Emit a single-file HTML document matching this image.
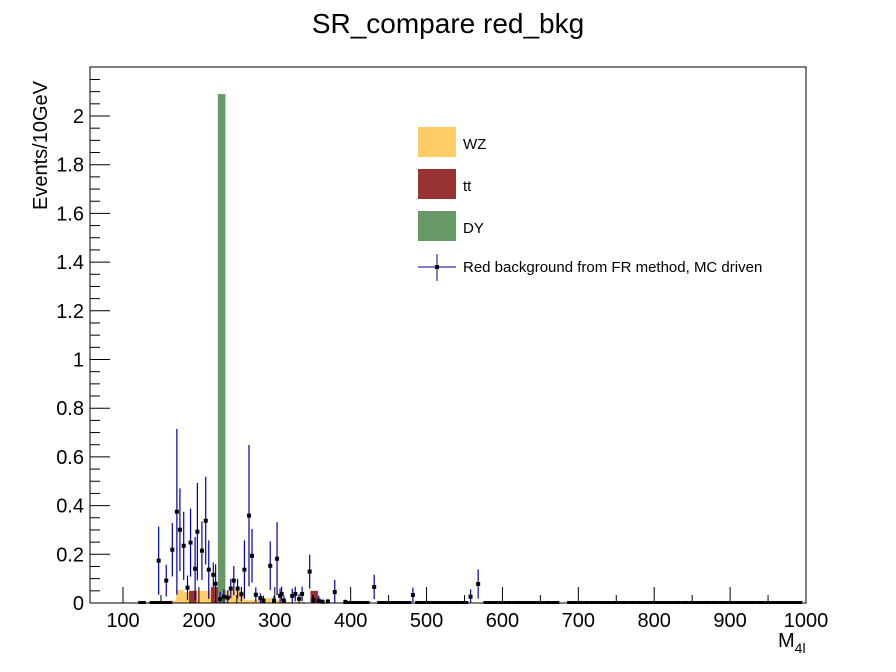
<!DOCTYPE html>
<html><head><meta charset="utf-8"><style>
html,body{margin:0;padding:0;background:#fff;}
svg{display:block;font-family:"Liberation Sans",sans-serif;}
</style></head><body>
<svg id="chart" width="896" height="672" viewBox="0 0 896 672">
<rect x="0" y="0" width="896" height="672" fill="#fff"/>
<text x="448" y="33" font-size="28" text-anchor="middle">SR_compare red_bkg</text>
<g id="hist"></g>
<g id="pts"></g>
<rect x="90" y="67" width="716" height="536" fill="none" stroke="#000" stroke-width="1"/>
<g id="axes"></g>
<text x="47" y="210" font-size="20" transform="rotate(-90 47 210)">Events/10GeV</text>
<text x="778" y="647" font-size="20">M<tspan font-size="14" dy="6">4l</tspan></text>
<g>
<rect x="418" y="127" width="38" height="30" fill="#ffcc66"/>
<text x="463" y="149" font-size="15">WZ</text>
<rect x="418" y="169" width="38" height="30" fill="#993333"/>
<text x="463" y="191" font-size="15">tt</text>
<rect x="418" y="211" width="38" height="30" fill="#669966"/>
<text x="463" y="233" font-size="15">DY</text>
<line x1="418" y1="267" x2="456" y2="267" stroke="#000099"/>
<line x1="437" y1="254" x2="437" y2="281" stroke="#000099"/>
<rect x="435" y="265" width="4" height="4" fill="#000"/>
<text x="463" y="272" font-size="15">Red background from FR method, MC driven</text>
</g>
</svg>
<script>
const wzLo=[160,170,180,190,200,210,220,230,240,250,260,270,280,290,300,310,320,330];
const wzVal=[0.01,0.053,0.045,0.05,0.05,0.05,0.05,0.05,0.05,0.05,0.012,0.012,0.02,0.02,0.012,0.005,0.004,0.004];
const ttLo=[187,216,347];
const ttVal=[0.05,0.066,0.05];
const dyLo=[225];
const dyVal=[2.09];
const ptX=[147,157,165,171,175,180,185,189,195,198,204,209,213,219,222,228,233,238,242,246,251,256,260,266,270,275,281,285,294,299,303,307,309,312,323,327,332,336,346,351,358,363,370,379,393,431,482,558,568];
const ptY=[0.174,0.092,0.219,0.375,0.301,0.235,0.063,0.248,0.141,0.293,0.215,0.338,0.137,0.116,0.079,0.016,0.026,0.022,0.059,0.092,0.059,0.036,0.137,0.359,0.194,0.034,0.02,0.01,0.153,0.01,0.182,0.03,0.037,0.01,0.029,0.037,0.017,0.037,0.129,0.012,0.01,0.005,0.006,0.045,0.004,0.066,0.033,0.026,0.078];
const ptErr=[0.14,0.065,0.11,0.34,0.17,0.14,0.05,0.14,0.13,0.2,0.12,0.18,0.12,0.05,0.08,0.03,0.03,0.03,0.04,0.06,0.04,0.03,0.12,0.29,0.11,0.03,0.02,0.02,0.1,0.02,0.15,0.03,0.03,0.02,0.03,0.03,0.02,0.03,0.07,0.02,0.02,0.01,0.01,0.05,0.01,0.05,0.03,0.03,0.06];
const zeroX=[125,140,145,152,160,400,405,410,420,440,450,460,470,475,490,500,510,520,530,540,550,580,590,600,610,620,630,640,650,660,670,690,700,710,720,730,740,750,760,770,780,790,800,810,820,830,840,850,860,870,880,890,900,910,920,930,940,950,960,970,980,990];
const yTicks=[0,0.2,0.4,0.6,0.8,1,1.2,1.4,1.6,1.8,2];
const yTickLabels=["0","0.2","0.4","0.6","0.8","1","1.2","1.4","1.6","1.8","2"];
const xTicks=[100,200,300,400,500,600,700,800,900,1000];
const xTickLabels=["100","200","300","400","500","600","700","800","900","1000"];

const NS="http://www.w3.org/2000/svg";
function X(v){return 123+(v-100)*0.75889;}
function Y(v){return 603-v*243.5;}
function mk(tag,attrs,parent){const e=document.createElementNS(NS,tag);for(const k in attrs)e.setAttribute(k,attrs[k]);parent.appendChild(e);return e;}
const H=document.getElementById('hist'),P=document.getElementById('pts'),A=document.getElementById('axes');
wzLo.forEach((lo,i)=>{const r=mk('rect',{x:X(lo),y:Y(wzVal[i]),width:X(lo+10)-X(lo),height:603-Y(wzVal[i]),fill:'#ffcc66'},H);

});
ttLo.forEach((lo,i)=>{const r=mk('rect',{x:X(lo),y:Y(ttVal[i]),width:X(lo+10)-X(lo),height:603-Y(ttVal[i]),fill:'#993333'},H);

});
dyLo.forEach((lo,i)=>{const r=mk('rect',{x:X(lo),y:Y(dyVal[i]),width:X(lo+10)-X(lo),height:603-Y(dyVal[i]),fill:'#669966'},H);

});
zeroX.forEach(x=>{const l=mk('line',{x1:X(x-5),x2:X(x+5),y1:602.5,y2:602.5,stroke:'#000','stroke-width':3},P);

});
ptX.forEach((x,i)=>{const g=mk('g',{},P);


mk('line',{x1:X(x),x2:X(x),y1:Y(ptY[i]+ptErr[i]),y2:Math.min(603,Y(ptY[i]-ptErr[i])),stroke:'#0000aa','stroke-width':1.2},g);
mk('rect',{x:X(x)-2,y:Y(ptY[i])-2,width:4,height:4,fill:'#000'},g);});
yTicks.forEach((v,i)=>{const t=mk('line',{x1:90,x2:110,y1:Y(v),y2:Y(v),stroke:'#000'},A);


const tx=mk('text',{x:84,y:Y(v)+7,'font-size':20,'text-anchor':'end'},A);tx.textContent=yTickLabels[i];

});
for(let v=0.05;v<2.2;v+=0.05){if(Math.abs(v/0.2-Math.round(v/0.2))<0.01)continue;mk('line',{x1:90,x2:100,y1:Y(v),y2:Y(v),stroke:'#000'},A);}
xTicks.forEach((v,i)=>{const t=mk('line',{x1:X(v),x2:X(v),y1:603,y2:587,stroke:'#000'},A);


const tx=mk('text',{x:X(v),y:627,'font-size':20,'text-anchor':'middle'},A);tx.textContent=xTickLabels[i];

});
for(let v=50;v<=1000;v+=50){if(v%100===0)continue;const x=X(v);if(x<90)continue;mk('line',{x1:x,x2:x,y1:603,y2:595,stroke:'#000'},A);}
</script>
</body></html>
